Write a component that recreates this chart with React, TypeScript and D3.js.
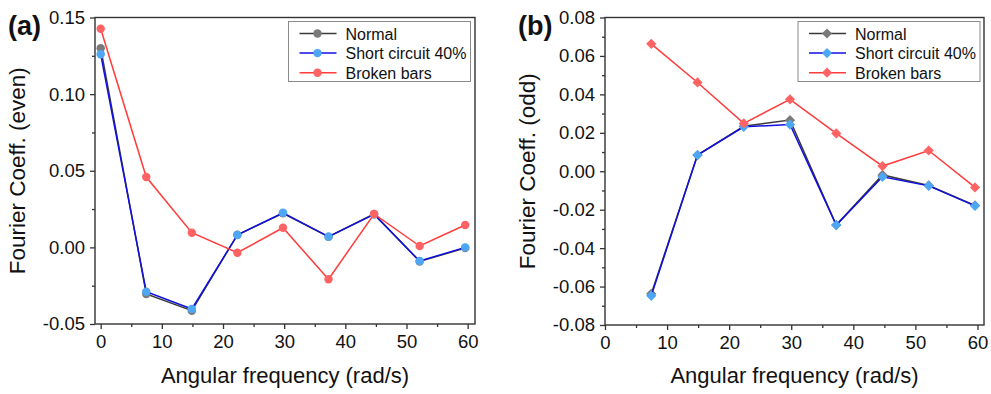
import { useEffect, useRef } from 'react';
import * as d3 from 'd3';

// angular frequencies (rad/s)
const freqs = [0, 7.45, 14.9, 22.35, 29.8, 37.25, 44.7, 52.15, 59.6];
const freqsOdd = [7.45, 14.9, 22.35, 29.8, 37.25, 44.7, 52.15, 59.6];

const seriesNames = ['Normal', 'Short circuit 40%', 'Broken bars'];

// (a) even coefficients
const evenNormal = [0.13, -0.0304, -0.0413, 0.0082, 0.0222, 0.007, 0.0218, -0.0092, -0.0004];
const evenShort = [0.126, -0.0289, -0.0402, 0.0081, 0.0226, 0.007, 0.0215, -0.0089, 0.0];
const evenBroken = [0.1427, 0.0459, 0.0096, -0.0035, 0.0128, -0.0208, 0.0218, 0.0009, 0.0146];

// (b) odd coefficients
const oddNormal = [-0.0638, 0.0084, 0.0234, 0.0266, -0.028, -0.0019, -0.0074, -0.0178];
const oddShort = [-0.0648, 0.0084, 0.0231, 0.0243, -0.028, -0.0029, -0.0076, -0.018];
const oddBroken = [0.0663, 0.0462, 0.0249, 0.0374, 0.0197, 0.0027, 0.0108, -0.0084];

const xTicks = [0, 10, 20, 30, 40, 50, 60];
const evenTicks = [-0.05, 0, 0.05, 0.1, 0.15];
const oddTicks = [-0.08, -0.06, -0.04, -0.02, 0, 0.02, 0.04, 0.06, 0.08];

const lineColors = ['#3a3a3a', '#1010e0', '#ff3b3b'];
const markColors = ['#7a7a7a', '#4ea7f5', '#ff6363'];
const FONT = '"Liberation Sans", Arial, sans-serif';

type Panel = {
  label: string;
  yTitle: string;
  xs: number[];
  ys: number[][];
  xDomain: [number, number];
  xRange: [number, number];
  yDomain: [number, number];
  yRange: [number, number];
  yTicks: number[];
  yMinorStep: number;
  diamond: boolean;
  legendX: number;
};

export default function App() {
  const svgRef = useRef<SVGSVGElement>(null);

  useEffect(() => {
    if (!svgRef.current) return;
    const svg = d3.select(svgRef.current);
    svg.selectAll('*').remove();

    const panels: Panel[] = [
      {
        label: '(a)',
        yTitle: 'Fourier Coeff. (even)',
        xs: freqs,
        ys: [evenNormal, evenShort, evenBroken],
        xDomain: [-0.93, 61.2],
        xRange: [95, 475],
        yDomain: [-0.05, 0.15],
        yRange: [324, 17.5],
        yTicks: evenTicks,
        yMinorStep: 0.025,
        diamond: false,
        legendX: 288.5,
      },
      {
        label: '(b)',
        yTitle: 'Fourier Coeff. (odd)',
        xs: freqsOdd,
        ys: [oddNormal, oddShort, oddBroken],
        xDomain: [0, 61.05],
        xRange: [605, 984],
        yDomain: [-0.08, 0.08],
        yRange: [325, 17.5],
        yTicks: oddTicks,
        yMinorStep: 0.01,
        diamond: true,
        legendX: 798,
      },
    ];

    panels.forEach((p) => {
      const x = d3.scaleLinear().domain(p.xDomain).range(p.xRange);
      const y = d3.scaleLinear().domain(p.yDomain).range(p.yRange);
      const g = svg.append('g');
      const [x0, x1] = p.xRange;
      const [yb, yt] = p.yRange;

      // minor ticks
      const xMinor = d3.range(5, 61, 10);
      const yMinor = d3
        .range(Math.round(p.yDomain[0] / p.yMinorStep), Math.round(p.yDomain[1] / p.yMinorStep) + 1)
        .map((i) => i * p.yMinorStep)
        .filter((v) => !p.yTicks.some((t) => Math.abs(t - v) < 1e-9));

      const axisX = g
        .append('g')
        .attr('transform', `translate(0,${yb})`)
        .call(
          d3
            .axisBottom(x)
            .tickValues(xTicks)
            .tickSize(5)
            .tickSizeOuter(0)
            .tickPadding(6)
            .tickFormat((d) => String(d))
        );
      axisX
        .append('g')
        .call(d3.axisBottom(x).tickValues(xMinor).tickSize(3).tickFormat(() => ''))
        .select('.domain')
        .remove();

      const axisY = g
        .append('g')
        .attr('transform', `translate(${x0},0)`)
        .call(
          d3
            .axisLeft(y)
            .tickValues(p.yTicks)
            .tickSize(5)
            .tickSizeOuter(0)
            .tickPadding(5)
            .tickFormat((d) => (+d).toFixed(2).replace('-0.00', '0.00'))
        );
      axisY
        .append('g')
        .call(d3.axisLeft(y).tickValues(yMinor).tickSize(3).tickFormat(() => ''))
        .select('.domain')
        .remove();

      g.selectAll('.domain').remove();
      g.selectAll('.tick line').attr('stroke', '#333').attr('stroke-width', 1.3);
      g.selectAll('.tick text')
        .attr('font-family', FONT)
        .attr('font-size', 18.5)
        .attr('fill', '#111');

      g.append('rect')
        .attr('x', x0)
        .attr('y', yt)
        .attr('width', x1 - x0)
        .attr('height', yb - yt)
        .attr('fill', 'none')
        .attr('stroke', '#333')
        .attr('stroke-width', 1.4);

      // series
      const line = d3
        .line<number>()
        .x((_, i) => x(p.xs[i]))
        .y((d) => y(d));
      const sym = p.diamond
        ? d3.symbol().type(d3.symbolSquare).size(52)
        : d3.symbol().type(d3.symbolCircle).size(56);
      const rot = p.diamond ? ' rotate(45)' : '';

      p.ys.forEach((vals, si) => {
        g.append('path')
          .datum(vals)
          .attr('d', line)
          .attr('fill', 'none')
          .attr('stroke', lineColors[si])
          .attr('stroke-width', 1.5);
        g.selectAll(null)
          .data(vals)
          .join('path')
          .attr('d', sym)
          .attr('transform', (d, i) => `translate(${x(p.xs[i])},${y(d)})${rot}`)
          .attr('fill', markColors[si]);
      });

      // titles
      g.append('text')
        .attr('x', (x0 + x1) / 2)
        .attr('y', 383)
        .attr('text-anchor', 'middle')
        .attr('font-family', FONT)
        .attr('font-size', 22)
        .attr('fill', '#111')
        .text('Angular frequency (rad/s)');

      g.append('text')
        .attr('transform', `translate(${x0 - 70},${(yb + yt) / 2}) rotate(-90)`)
        .attr('text-anchor', 'middle')
        .attr('font-family', FONT)
        .attr('font-size', 22.5)
        .attr('fill', '#111')
        .text(p.yTitle);

      g.append('text')
        .attr('x', x0 - 87)
        .attr('y', 35)
        .attr('font-family', FONT)
        .attr('font-size', 27)
        .attr('font-weight', 'bold')
        .attr('fill', '#111')
        .text(p.label);

      // legend
      const lg = g.append('g').attr('transform', `translate(${p.legendX},21.5)`);
      lg.append('rect')
        .attr('width', 182)
        .attr('height', 60)
        .attr('fill', 'white')
        .attr('stroke', '#8a8a8a')
        .attr('stroke-width', 1);
      seriesNames.forEach((name, si) => {
        const cy = 12 + si * 19.6;
        lg.append('line')
          .attr('x1', 11)
          .attr('x2', 48)
          .attr('y1', cy)
          .attr('y2', cy)
          .attr('stroke', lineColors[si])
          .attr('stroke-width', 1.5);
        lg.append('path')
          .attr('d', sym)
          .attr('transform', `translate(29,${cy})${rot}`)
          .attr('fill', markColors[si]);
        lg.append('text')
          .attr('x', 57)
          .attr('y', cy + 6)
          .attr('font-family', FONT)
          .attr('font-size', 16)
          .attr('fill', '#111')
          .text(name);
      });
    });
  }, []);

  return (
    <div style={{ position: 'absolute', left: 0, top: 0 }}>
      <svg ref={svgRef} width={991} height={394} viewBox="0 0 991 394" style={{ display: 'block', background: 'white' }} />
    </div>
  );
}
